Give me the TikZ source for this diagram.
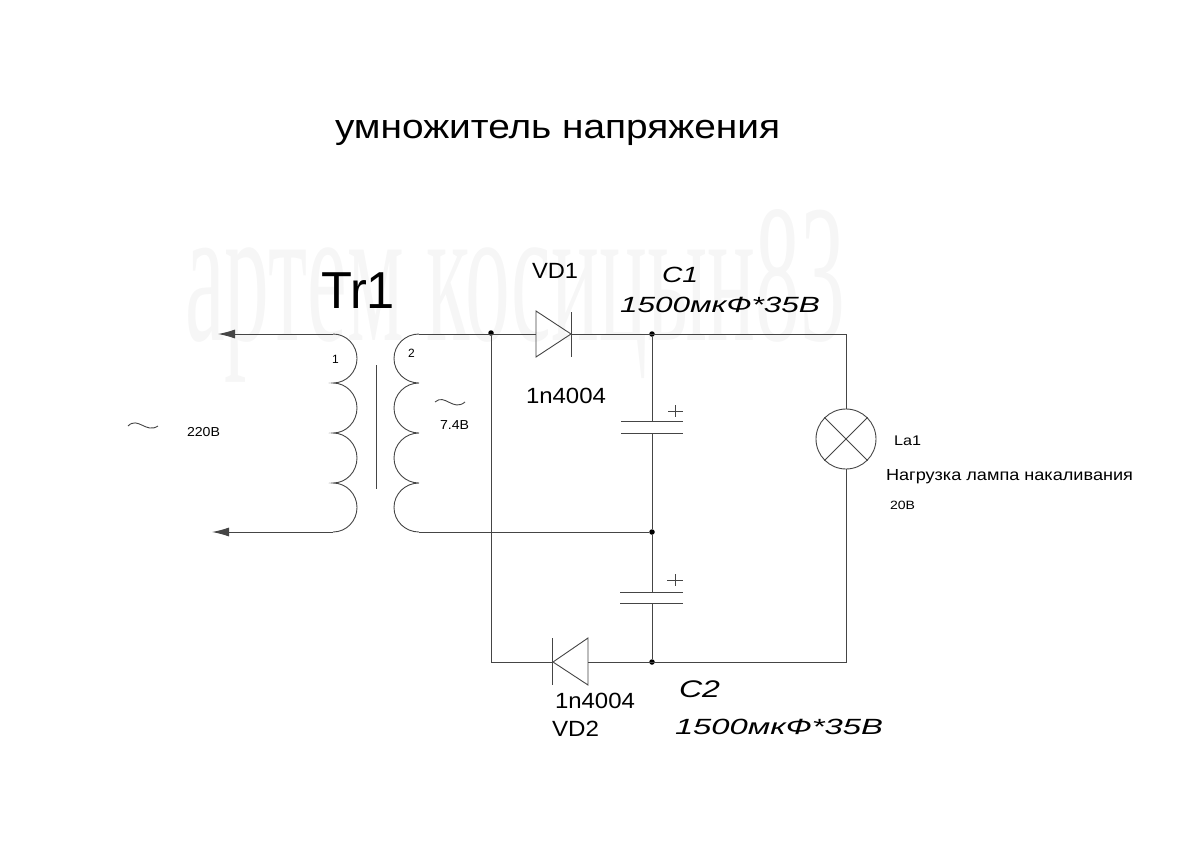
\documentclass[tikz,border=0pt]{standalone}
\usepackage{fontspec}
\usepackage{graphicx}
\setmainfont{Liberation Sans}
\newfontfamily\wmfont{Liberation Serif}
\usetikzlibrary{arrows.meta}
\newcommand\fw[2]{\resizebox{#1pt}{\height}{#2}}
\definecolor{wire}{gray}{0.27}
\definecolor{wm}{gray}{0.965}
\tikzset{
 x=1pt,y=-1pt,
 wireline/.style={draw=wire,line width=0.9pt},
 txt/.style={anchor=base west,inner sep=0pt,outer sep=0pt,text=black},
 dotmark/.style={circle,fill=black,inner sep=0pt,minimum size=5.5pt},
 inarrow/.style={-{Latex[length=17pt,width=9pt]}},
}
\newcommand\sz[1]{\fontsize{#1}{#1}\selectfont}
\begin{document}
\begin{tikzpicture}
\useasboundingbox (0,0) rectangle (1200,849);
% watermark
\node[txt,text=wm] (wmark) at (185,340) {\fw{660}{\wmfont\sz{197}артем косицын83}};
% coordinates
\coordinate (inA) at (218,334);
\coordinate (inB) at (212,532);
\coordinate (p1) at (333,334);
\coordinate (p2) at (333,383);
\coordinate (p3) at (333,433);
\coordinate (p4) at (333,483);
\coordinate (p5) at (333,532);
\coordinate (s1) at (419,334);
\coordinate (s2) at (419,383);
\coordinate (s3) at (419,433);
\coordinate (s4) at (419,483);
\coordinate (s5) at (419,532);
\coordinate (coreT) at (376,365);
\coordinate (coreB) at (376,489);
\node[dotmark] (j1) at (491,333) {};
\node[dotmark] (j2) at (652,334) {};
\node[dotmark] (j3) at (652,532) {};
\node[dotmark] (j4) at (652,662) {};
\coordinate (cTR) at (846,334);
\coordinate (cBR) at (846,662);
\coordinate (cBL) at (491,662);
\coordinate (d1a) at (536,334);
\coordinate (d1k) at (571,334);
\coordinate (d2a) at (588,662);
\coordinate (d2k) at (553,662);
\node[circle,draw=wire,line width=0.9pt,minimum size=60pt,inner sep=0pt] (lamp) at (846,439) {};
% primary
\draw[wireline,inarrow] (p1) -- (inA);
\draw[wireline,inarrow] (p5) -- (inB);
\draw[wireline] (p1) to[out=0,in=90] (357,358.5) to[out=-90,in=0] (p2)
 to[out=0,in=90] (357,408) to[out=-90,in=0] (p3)
 to[out=0,in=90] (357,458) to[out=-90,in=0] (p4)
 to[out=0,in=90] (357,507.5) to[out=-90,in=0] (p5);
% core
\draw[wireline] (coreT) -- (coreB);
% secondary
\draw[wireline] (s1) to[out=180,in=90] (394,358.5) to[out=-90,in=180] (s2)
 to[out=180,in=90] (394,408) to[out=-90,in=180] (s3)
 to[out=180,in=90] (394,458) to[out=-90,in=180] (s4)
 to[out=180,in=90] (394,507.5) to[out=-90,in=180] (s5);
% wires
\draw[wireline] (s1) -- (d1a);
\draw[wireline] (d1k) -- (cTR) -- (lamp.north);
\draw[wireline] (lamp.south) -- (cBR) -- (d2a);
\draw[wireline] (d2k) -- (cBL) -- (j1);
\draw[wireline] (s5) -- (j3);
% diode 1
\draw[wireline] (536,311) -- (d1k) -- (536,357) -- cycle;
\draw[wireline] (571,312) -- (571,357);
% diode 2
\draw[wireline] (588,638) -- (d2k) -- (588,685) -- cycle;
\draw[wireline] (552,638) -- (552,685);
% cap 1
\coordinate (c1t) at (652,421);
\coordinate (c1b) at (652,433);
\draw[wireline] (j2) -- (c1t);
\draw[wireline] (c1b) -- (j3);
\draw[wireline] (621,421) -- (683,421);
\draw[wireline] (621,433) -- (683,433);
\draw[wireline] (668,411) -- (683,411);
\draw[wireline] (675.5,405) -- (675.5,417);
% cap 2
\coordinate (c2t) at (652,592);
\coordinate (c2b) at (652,603);
\draw[wireline] (j3) -- (c2t);
\draw[wireline] (c2b) -- (j4);
\draw[wireline] (620,592) -- (683,592);
\draw[wireline] (620,603) -- (683,603);
\draw[wireline] (667,580) -- (683,580);
\draw[wireline] (675,574) -- (675,586);
% lamp cross
\draw[wireline] (lamp.north west) -- (lamp.south east);
\draw[wireline] (lamp.north east) -- (lamp.south west);
% tildes
\draw[wireline] (128,426) .. controls (138,416) and (146,434) .. (158,426);
\draw[wireline] (435,402) .. controls (445,393) and (453,412) .. (465,402);
% texts
\node[txt] (title) at (335,138) {\fw{445}{\sz{34}умножитель напряжения}};
\node[txt] (tr) at (321,308) {\fw{74}{\sz{52}Tr1}};
\node[txt] (vd1) at (532,278) {\fw{46}{\sz{22}VD1}};
\node[txt] (d1v) at (526,403) {\fw{80}{\sz{22}1n4004}};
\node[txt] (c1n) at (662,282) {\fw{36}{\sz{22}\itshape C1}};
\node[txt] (c1v) at (620,312) {\fw{200}{\sz{22}\itshape 1500мкФ*35В}};
\node[txt] (t1) at (332,363) {\sz{12}1};
\node[txt] (t2) at (408,357) {\sz{12}2};
\node[txt] (v220) at (187,436) {\fw{33}{\sz{13}220В}};
\node[txt] (v74) at (440,429) {\fw{29}{\sz{13}7.4В}};
\node[txt] (la) at (894,445) {\fw{27}{\sz{14}La1}};
\node[txt] (load) at (886,480) {\fw{247}{\sz{16}Нагрузка лампа накаливания}};
\node[txt] (v20) at (890,509) {\fw{25}{\sz{12}20В}};
\node[txt] (d2v) at (555,708) {\fw{80}{\sz{22}1n4004}};
\node[txt] (vd2) at (552,736) {\fw{47}{\sz{22}VD2}};
\node[txt] (c2n) at (679,697) {\fw{41}{\sz{24}\itshape C2}};
\node[txt] (c2v) at (675,734) {\fw{208}{\sz{22}\itshape 1500мкФ*35В}};
\end{tikzpicture}
\end{document}
